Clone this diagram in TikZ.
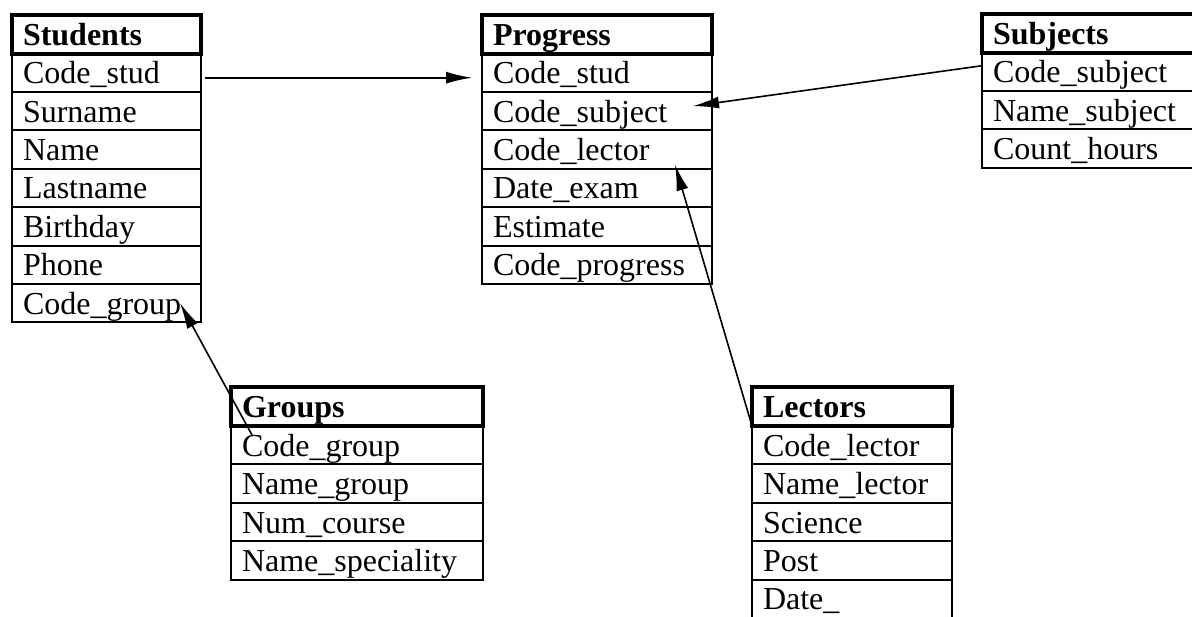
\documentclass[tikz,border=0pt]{standalone}
\usepackage{fontspec}
\setmainfont{Liberation Serif}
\usetikzlibrary{positioning,arrows.meta,calc}
\tikzset{
  tblhead/.style={draw, line width=2pt, outer sep=0pt, anchor=north west,
    inner xsep=5.5pt, inner ysep=0pt, minimum height=19.5pt, text width=#1,
    align=left, text height=13pt, text depth=2pt,
    font=\fontsize{16pt}{19pt}\selectfont\bfseries},
  tblrow/.style={draw, line width=1pt, outer sep=0pt,
    inner xsep=5.5pt, inner ysep=0pt, minimum height=19.2pt, text width=#1,
    align=left, text height=13pt, text depth=2pt,
    font=\fontsize{16pt}{19pt}\selectfont},
  link/.style={->, line width=0.8pt}
}

\begin{document}
\begin{tikzpicture}[x=0.5pt, y=-0.5pt, >={Latex[length=13pt,width=6pt]}]
	\useasboundingbox (0,0) rectangle (1192,616);
	% Students
	\node[tblhead=83.5pt] (S0) at (12,14.5) {Students};
	\foreach \f [count=\i, evaluate=\i as \j using int(\i-1)] in {Code\_stud,Surname,Name,Lastname,Birthday,Phone,Code\_group}
		\node[tblrow=83.5pt, below=0pt of S\j] (S\i) {\f};
	% Progress
	\node[tblhead=104pt] (P0) at (482,14.5) {Progress};
	\foreach \f [count=\i, evaluate=\i as \j using int(\i-1)] in {Code\_stud,Code\_subject,Code\_lector,Date\_exam,Estimate,Code\_progress}
		\node[tblrow=104pt, below=0pt of P\j] (P\i) {\f};
	% Subjects
	\node[tblhead=98pt] (J0) at (982,13.5) {Subjects};
	\foreach \f [count=\i, evaluate=\i as \j using int(\i-1)] in {Code\_subject,Name\_subject,Count\_hours}
		\node[tblrow=98pt, below=0pt of J\j] (J\i) {\f};
	% Groups
	\node[tblhead=115pt] (G0) at (231,387) {Groups};
	\foreach \f [count=\i, evaluate=\i as \j using int(\i-1)] in {Code\_group,Name\_group,Num\_course,Name\_speciality}
		\node[tblrow=115pt, below=0pt of G\j] (G\i) {\f};
	% Lectors
	\node[tblhead=89pt] (L0) at (752,387) {Lectors};
	\foreach \f [count=\i, evaluate=\i as \j using int(\i-1)] in {Code\_lector,Name\_lector,Science,Post,Date\_}
		\node[tblrow=89pt, below=0pt of L\j] (L\i) {\f};
	% links
	\draw[link, shorten <=2pt, shorten >=5pt] ([yshift=-2.5pt]S1.east) -- ([yshift=-2.5pt]P1.west);
	\draw[link] ([yshift=3pt]J1.west) -- ($(P2.east)+(-19,-5)$);
	\draw[link] (L0.south west) -- ($(P3.south east)+(-37,-4)$);
	\draw[link] ($(G1.north west)+(21,9)$) -- ($(S7.east)+(-21,0)$);
\end{tikzpicture}
\end{document}
